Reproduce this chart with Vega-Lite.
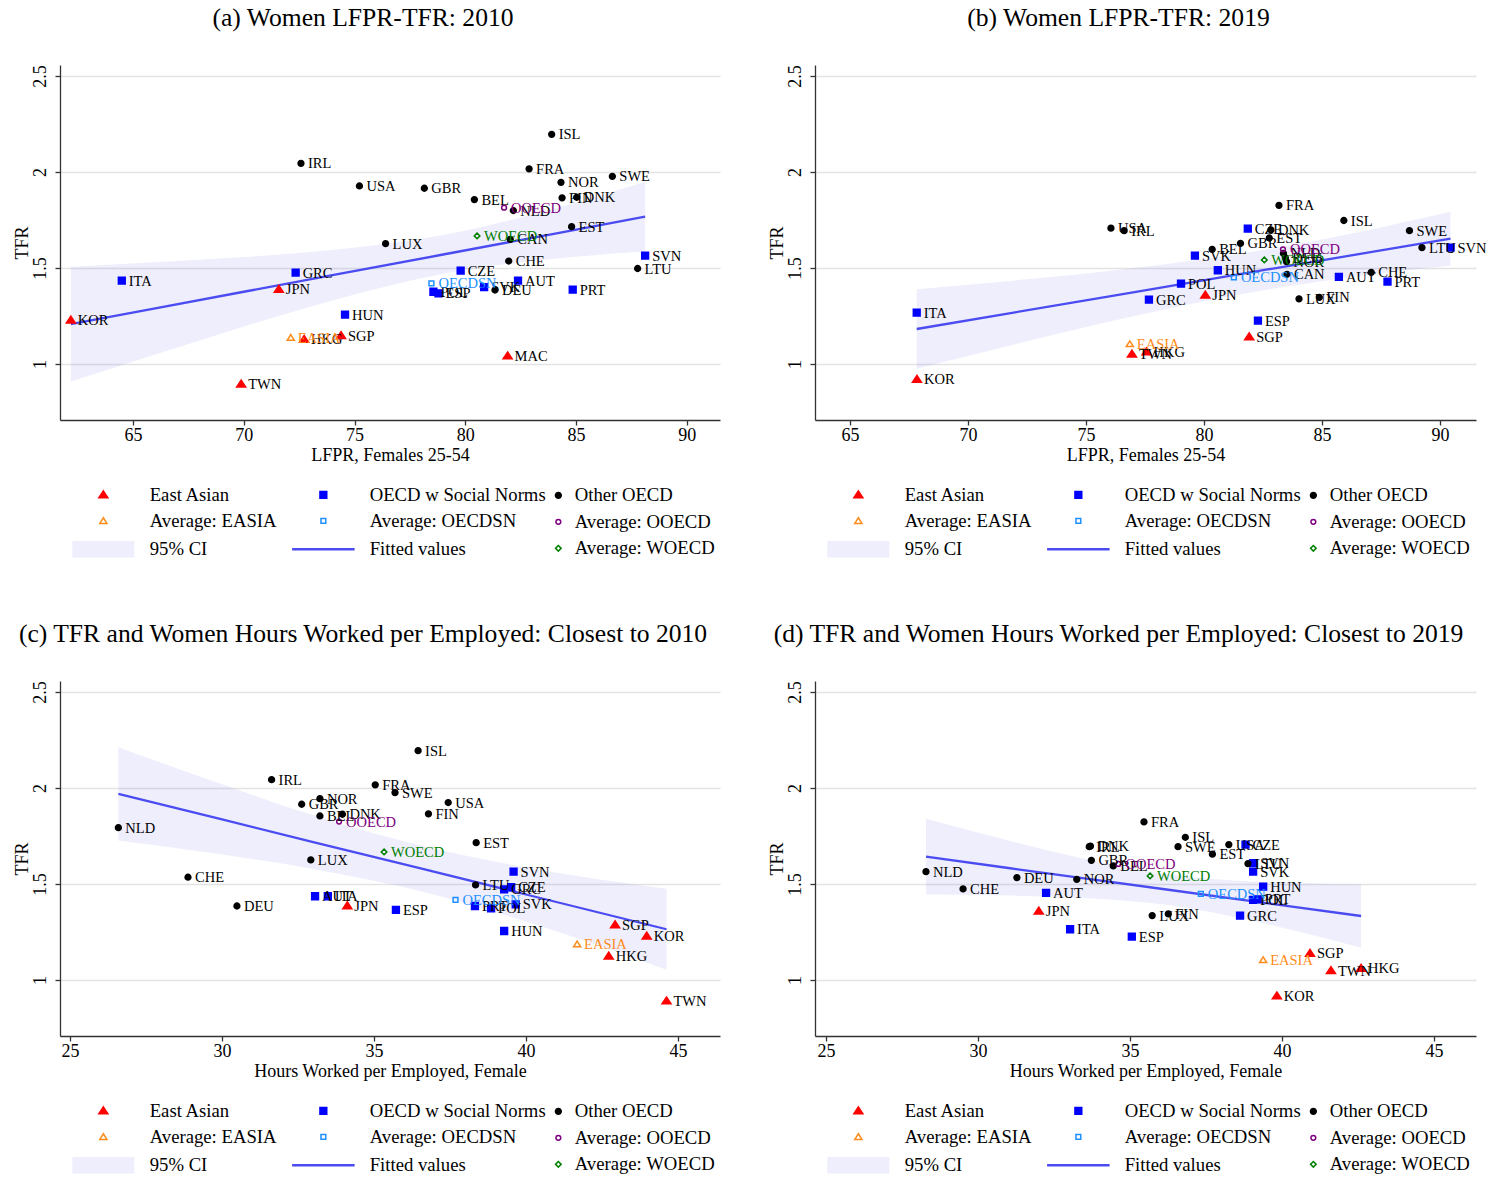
{
  "$schema": "https://vega.github.io/schema/vega-lite/v6.json",
  "background": "white",
  "padding": {"left": 13, "top": 6, "right": 5, "bottom": 5},
  "bounds": "flush",
  "columns": 2,
  "spacing": {"row": 261, "column": 95},
  "config": {
    "font": "Liberation Serif",
    "view": {"stroke": null},
    "title": {"font": "Liberation Serif", "fontSize": 25.6, "fontWeight": "normal", "color": "black", "anchor": "middle", "frame": "group", "dx": -27, "baseline": "alphabetic", "offset": 33},
    "axis": {"labelFont": "Liberation Serif", "labelFontSize": 18, "labelColor": "black", "titleFont": "Liberation Serif", "titleFontSize": 18, "titleFontWeight": "normal", "titleColor": "black", "domainColor": "#333333", "domainWidth": 1.3, "tickColor": "#333333", "tickWidth": 1.3, "tickSize": 5, "gridColor": "#e3e3e3", "gridWidth": 1.6},
    "axisY": {"labelAngle": 270, "labelAlign": "center", "labelBaseline": "bottom", "labelPadding": 6, "titlePadding": 0, "grid": true},
    "axisX": {"grid": false, "labelPadding": 1, "titlePadding": 2},
    "legend": {"labelFont": "Liberation Serif", "labelFontSize": 18.7, "labelColor": "black", "symbolSize": 100, "symbolStrokeWidth": 1.5, "rowPadding": 6.5, "labelLimit": 400, "padding": 0, "gridAlign": "each"}
  },
  "resolve": {
    "scale": {"shape": "independent", "fill": "independent", "stroke": "independent", "color": "independent"},
    "legend": {"shape": "independent", "fill": "independent", "stroke": "independent"}
  },
  "datasets": {
    "a": [
      {"label": "KOR", "group": "East Asian", "x": 62.19, "y": 1.229},
      {"label": "JPN", "group": "East Asian", "x": 71.58, "y": 1.389},
      {"label": "TWN", "group": "East Asian", "x": 69.88, "y": 0.896},
      {"label": "HKG", "group": "East Asian", "x": 72.72, "y": 1.128},
      {"label": "SGP", "group": "East Asian", "x": 74.39, "y": 1.148},
      {"label": "MAC", "group": "East Asian", "x": 81.91, "y": 1.042},
      {"label": "ITA", "group": "OECD w Social Norms", "x": 64.49, "y": 1.434},
      {"label": "GRC", "group": "OECD w Social Norms", "x": 72.34, "y": 1.476},
      {"label": "HUN", "group": "OECD w Social Norms", "x": 74.57, "y": 1.257},
      {"label": "CZE", "group": "OECD w Social Norms", "x": 79.79, "y": 1.486},
      {"label": "POL", "group": "OECD w Social Norms", "x": 78.56, "y": 1.376},
      {"label": "ESP", "group": "OECD w Social Norms", "x": 78.79, "y": 1.368},
      {"label": "SVK", "group": "OECD w Social Norms", "x": 80.85, "y": 1.4},
      {"label": "AUT", "group": "OECD w Social Norms", "x": 82.38, "y": 1.434},
      {"label": "PRT", "group": "OECD w Social Norms", "x": 84.85, "y": 1.387},
      {"label": "SVN", "group": "OECD w Social Norms", "x": 88.12, "y": 1.564},
      {"label": "IRL", "group": "Other OECD", "x": 72.58, "y": 2.045},
      {"label": "USA", "group": "Other OECD", "x": 75.22, "y": 1.927},
      {"label": "LUX", "group": "Other OECD", "x": 76.4, "y": 1.627},
      {"label": "GBR", "group": "Other OECD", "x": 78.15, "y": 1.915},
      {"label": "BEL", "group": "Other OECD", "x": 80.41, "y": 1.856},
      {"label": "FRA", "group": "Other OECD", "x": 82.88, "y": 2.016},
      {"label": "ISL", "group": "Other OECD", "x": 83.9, "y": 2.196},
      {"label": "NOR", "group": "Other OECD", "x": 84.32, "y": 1.946},
      {"label": "SWE", "group": "Other OECD", "x": 86.64, "y": 1.977},
      {"label": "FIN", "group": "Other OECD", "x": 84.37, "y": 1.865},
      {"label": "DNK", "group": "Other OECD", "x": 85.03, "y": 1.868},
      {"label": "NLD", "group": "Other OECD", "x": 82.17, "y": 1.799},
      {"label": "EST", "group": "Other OECD", "x": 84.8, "y": 1.715},
      {"label": "CAN", "group": "Other OECD", "x": 82.03, "y": 1.649},
      {"label": "CHE", "group": "Other OECD", "x": 81.96, "y": 1.536},
      {"label": "DEU", "group": "Other OECD", "x": 81.34, "y": 1.385},
      {"label": "LTU", "group": "Other OECD", "x": 87.78, "y": 1.497},
      {"label": "EASIA", "group": "Average: EASIA", "x": 72.12, "y": 1.137},
      {"label": "OECDSN", "group": "Average: OECDSN", "x": 78.47, "y": 1.42},
      {"label": "OOECD", "group": "Average: OOECD", "x": 81.75, "y": 1.814},
      {"label": "WOECD", "group": "Average: WOECD", "x": 80.53, "y": 1.667}
    ],
    "b": [
      {"label": "KOR", "group": "East Asian", "x": 67.84, "y": 0.92},
      {"label": "JPN", "group": "East Asian", "x": 80.06, "y": 1.359},
      {"label": "TWN", "group": "East Asian", "x": 76.95, "y": 1.052},
      {"label": "HKG", "group": "East Asian", "x": 77.57, "y": 1.064},
      {"label": "SGP", "group": "East Asian", "x": 81.92, "y": 1.142},
      {"label": "ITA", "group": "OECD w Social Norms", "x": 67.83, "y": 1.267},
      {"label": "GRC", "group": "OECD w Social Norms", "x": 77.67, "y": 1.335},
      {"label": "POL", "group": "OECD w Social Norms", "x": 79.03, "y": 1.418},
      {"label": "HUN", "group": "OECD w Social Norms", "x": 80.59, "y": 1.488},
      {"label": "SVK", "group": "OECD w Social Norms", "x": 79.62, "y": 1.564},
      {"label": "CZE", "group": "OECD w Social Norms", "x": 81.86, "y": 1.705},
      {"label": "ESP", "group": "OECD w Social Norms", "x": 82.29, "y": 1.226},
      {"label": "AUT", "group": "OECD w Social Norms", "x": 85.72, "y": 1.453},
      {"label": "PRT", "group": "OECD w Social Norms", "x": 87.78, "y": 1.429},
      {"label": "SVN", "group": "OECD w Social Norms", "x": 90.45, "y": 1.606},
      {"label": "USA", "group": "Other OECD", "x": 76.06, "y": 1.707},
      {"label": "IRL", "group": "Other OECD", "x": 76.62, "y": 1.694},
      {"label": "BEL", "group": "Other OECD", "x": 80.35, "y": 1.597},
      {"label": "GBR", "group": "Other OECD", "x": 81.55, "y": 1.628},
      {"label": "DNK", "group": "Other OECD", "x": 82.84, "y": 1.698},
      {"label": "EST", "group": "Other OECD", "x": 82.77, "y": 1.656},
      {"label": "FRA", "group": "Other OECD", "x": 83.18, "y": 1.826},
      {"label": "ISL", "group": "Other OECD", "x": 85.93, "y": 1.747},
      {"label": "SWE", "group": "Other OECD", "x": 88.71, "y": 1.694},
      {"label": "LTU", "group": "Other OECD", "x": 89.24, "y": 1.606},
      {"label": "NLD", "group": "Other OECD", "x": 83.37, "y": 1.576},
      {"label": "DEU", "group": "Other OECD", "x": 83.45, "y": 1.553},
      {"label": "NOR", "group": "Other OECD", "x": 83.5, "y": 1.533},
      {"label": "CAN", "group": "Other OECD", "x": 83.52, "y": 1.467},
      {"label": "CHE", "group": "Other OECD", "x": 87.09, "y": 1.477},
      {"label": "LUX", "group": "Other OECD", "x": 84.03, "y": 1.339},
      {"label": "FIN", "group": "Other OECD", "x": 84.89, "y": 1.347},
      {"label": "EASIA", "group": "Average: EASIA", "x": 76.86, "y": 1.104},
      {"label": "OECDSN", "group": "Average: OECDSN", "x": 81.27, "y": 1.451},
      {"label": "OOECD", "group": "Average: OOECD", "x": 83.35, "y": 1.597},
      {"label": "WOECD", "group": "Average: WOECD", "x": 82.56, "y": 1.542}
    ],
    "c": [
      {"label": "JPN", "group": "East Asian", "x": 34.12, "y": 1.387},
      {"label": "SGP", "group": "East Asian", "x": 42.93, "y": 1.288},
      {"label": "KOR", "group": "East Asian", "x": 43.97, "y": 1.229},
      {"label": "HKG", "group": "East Asian", "x": 42.72, "y": 1.125},
      {"label": "TWN", "group": "East Asian", "x": 44.62, "y": 0.891},
      {"label": "AUT", "group": "OECD w Social Norms", "x": 33.06, "y": 1.436},
      {"label": "ITA", "group": "OECD w Social Norms", "x": 33.48, "y": 1.436},
      {"label": "ESP", "group": "OECD w Social Norms", "x": 35.72, "y": 1.365},
      {"label": "SVN", "group": "OECD w Social Norms", "x": 39.59, "y": 1.564},
      {"label": "CZE", "group": "OECD w Social Norms", "x": 39.51, "y": 1.483},
      {"label": "GRC", "group": "OECD w Social Norms", "x": 39.28, "y": 1.472},
      {"label": "SVK", "group": "OECD w Social Norms", "x": 39.66, "y": 1.394},
      {"label": "PRT", "group": "OECD w Social Norms", "x": 38.32, "y": 1.385},
      {"label": "POL", "group": "OECD w Social Norms", "x": 38.85, "y": 1.373},
      {"label": "HUN", "group": "OECD w Social Norms", "x": 39.28, "y": 1.255},
      {"label": "NLD", "group": "Other OECD", "x": 26.59, "y": 1.793},
      {"label": "CHE", "group": "Other OECD", "x": 28.88, "y": 1.535},
      {"label": "DEU", "group": "Other OECD", "x": 30.49, "y": 1.385},
      {"label": "IRL", "group": "Other OECD", "x": 31.63, "y": 2.043},
      {"label": "GBR", "group": "Other OECD", "x": 32.62, "y": 1.915},
      {"label": "NOR", "group": "Other OECD", "x": 33.22, "y": 1.944},
      {"label": "BEL", "group": "Other OECD", "x": 33.22, "y": 1.854},
      {"label": "DNK", "group": "Other OECD", "x": 33.96, "y": 1.863},
      {"label": "LUX", "group": "Other OECD", "x": 32.92, "y": 1.625},
      {"label": "FRA", "group": "Other OECD", "x": 35.04, "y": 2.016},
      {"label": "SWE", "group": "Other OECD", "x": 35.69, "y": 1.976},
      {"label": "ISL", "group": "Other OECD", "x": 36.45, "y": 2.194},
      {"label": "USA", "group": "Other OECD", "x": 37.44, "y": 1.924},
      {"label": "FIN", "group": "Other OECD", "x": 36.79, "y": 1.865},
      {"label": "EST", "group": "Other OECD", "x": 38.36, "y": 1.715},
      {"label": "LTU", "group": "Other OECD", "x": 38.34, "y": 1.495},
      {"label": "EASIA", "group": "Average: EASIA", "x": 41.68, "y": 1.186},
      {"label": "OECDSN", "group": "Average: OECDSN", "x": 37.68, "y": 1.417},
      {"label": "OOECD", "group": "Average: OOECD", "x": 33.85, "y": 1.825},
      {"label": "WOECD", "group": "Average: WOECD", "x": 35.33, "y": 1.667}
    ],
    "d": [
      {"label": "JPN", "group": "East Asian", "x": 32.0, "y": 1.359},
      {"label": "SGP", "group": "East Asian", "x": 40.92, "y": 1.139},
      {"label": "TWN", "group": "East Asian", "x": 41.61, "y": 1.049},
      {"label": "HKG", "group": "East Asian", "x": 42.6, "y": 1.061},
      {"label": "KOR", "group": "East Asian", "x": 39.83, "y": 0.917},
      {"label": "AUT", "group": "OECD w Social Norms", "x": 32.24, "y": 1.453},
      {"label": "ITA", "group": "OECD w Social Norms", "x": 33.03, "y": 1.264},
      {"label": "ESP", "group": "OECD w Social Norms", "x": 35.06, "y": 1.226},
      {"label": "CZE", "group": "OECD w Social Norms", "x": 38.8, "y": 1.705},
      {"label": "SVN", "group": "OECD w Social Norms", "x": 39.05, "y": 1.608},
      {"label": "SVK", "group": "OECD w Social Norms", "x": 39.05, "y": 1.564},
      {"label": "HUN", "group": "OECD w Social Norms", "x": 39.38, "y": 1.486},
      {"label": "POL", "group": "OECD w Social Norms", "x": 39.05, "y": 1.417},
      {"label": "PRT", "group": "OECD w Social Norms", "x": 39.2, "y": 1.42},
      {"label": "GRC", "group": "OECD w Social Norms", "x": 38.62, "y": 1.335},
      {"label": "NLD", "group": "Other OECD", "x": 28.29, "y": 1.564},
      {"label": "CHE", "group": "Other OECD", "x": 29.51, "y": 1.474},
      {"label": "DEU", "group": "Other OECD", "x": 31.28, "y": 1.533},
      {"label": "NOR", "group": "Other OECD", "x": 33.25, "y": 1.524},
      {"label": "IRL", "group": "Other OECD", "x": 33.66, "y": 1.694},
      {"label": "DNK", "group": "Other OECD", "x": 33.7, "y": 1.697},
      {"label": "GBR", "group": "Other OECD", "x": 33.73, "y": 1.623},
      {"label": "BEL", "group": "Other OECD", "x": 34.45, "y": 1.594},
      {"label": "FRA", "group": "Other OECD", "x": 35.46, "y": 1.823},
      {"label": "ISL", "group": "Other OECD", "x": 36.82, "y": 1.743},
      {"label": "SWE", "group": "Other OECD", "x": 36.58, "y": 1.694},
      {"label": "USA", "group": "Other OECD", "x": 38.25, "y": 1.705},
      {"label": "EST", "group": "Other OECD", "x": 37.71, "y": 1.655},
      {"label": "LTU", "group": "Other OECD", "x": 38.88, "y": 1.606},
      {"label": "LUX", "group": "Other OECD", "x": 35.73, "y": 1.335},
      {"label": "FIN", "group": "Other OECD", "x": 36.26, "y": 1.344},
      {"label": "EASIA", "group": "Average: EASIA", "x": 39.38, "y": 1.104},
      {"label": "OECDSN", "group": "Average: OECDSN", "x": 37.33, "y": 1.448},
      {"label": "OOECD", "group": "Average: OOECD", "x": 34.62, "y": 1.604},
      {"label": "WOECD", "group": "Average: WOECD", "x": 35.66, "y": 1.542}
    ],
    "fa": [
      {"x": 62.19, "lo": 0.909, "hi": 1.505, "fit": 1.207},
      {"x": 66, "lo": 1.049, "hi": 1.529, "fit": 1.289},
      {"x": 70, "lo": 1.195, "hi": 1.557, "fit": 1.376},
      {"x": 74, "lo": 1.331, "hi": 1.593, "fit": 1.462},
      {"x": 79, "lo": 1.47, "hi": 1.671, "fit": 1.57},
      {"x": 84, "lo": 1.548, "hi": 1.808, "fit": 1.678},
      {"x": 88.12, "lo": 1.585, "hi": 1.949, "fit": 1.767}
    ],
    "fb": [
      {"x": 67.83, "lo": 0.975, "hi": 1.389, "fit": 1.182},
      {"x": 72, "lo": 1.103, "hi": 1.435, "fit": 1.269},
      {"x": 77, "lo": 1.248, "hi": 1.498, "fit": 1.373},
      {"x": 82.7, "lo": 1.388, "hi": 1.597, "fit": 1.492},
      {"x": 87, "lo": 1.465, "hi": 1.698, "fit": 1.581},
      {"x": 90.45, "lo": 1.513, "hi": 1.793, "fit": 1.653}
    ],
    "fc": [
      {"x": 26.59, "lo": 1.726, "hi": 2.212, "fit": 1.969},
      {"x": 30, "lo": 1.653, "hi": 2.019, "fit": 1.836},
      {"x": 33, "lo": 1.578, "hi": 1.858, "fit": 1.718},
      {"x": 36.5, "lo": 1.463, "hi": 1.701, "fit": 1.582},
      {"x": 40, "lo": 1.304, "hi": 1.586, "fit": 1.445},
      {"x": 44.62, "lo": 1.053, "hi": 1.475, "fit": 1.264}
    ],
    "fd": [
      {"x": 28.29, "lo": 1.445, "hi": 1.839, "fit": 1.642},
      {"x": 31, "lo": 1.44, "hi": 1.726, "fit": 1.583},
      {"x": 33.5, "lo": 1.427, "hi": 1.631, "fit": 1.529},
      {"x": 36.2, "lo": 1.391, "hi": 1.551, "fit": 1.471},
      {"x": 39, "lo": 1.309, "hi": 1.513, "fit": 1.411},
      {"x": 42.6, "lo": 1.168, "hi": 1.498, "fit": 1.333}
    ]
  },
  "concat": [
    {
      "width": 660, "height": 355,
      "title": {"text": "(a) Women LFPR-TFR: 2010"},
      "resolve": {"scale": {"shape": "independent", "fill": "independent", "stroke": "independent"}, "legend": {"shape": "independent", "fill": "independent", "stroke": "independent"}},
      "layer": [
        {"data": {"name": "fa"}, "mark": {"type": "area", "color": "#7171e6", "opacity": 0.12, "interpolate": "monotone"},
         "encoding": {
           "x": {"field": "x", "type": "quantitative", "scale": {"domain": [61.7, 91.5], "nice": false, "zero": false}, "axis": {"values": [65, 70, 75, 80, 85, 90], "format": "d", "title": "LFPR, Females 25-54"}},
           "y": {"field": "lo", "type": "quantitative", "scale": {"domain": [0.708, 2.557], "nice": false, "zero": false}, "axis": {"values": [1, 1.5, 2, 2.5], "format": "~g", "title": "TFR"}},
           "y2": {"field": "hi"}}},
        {"data": {"name": "fa"}, "mark": {"type": "line", "color": "#4b4bf2", "strokeWidth": 2.3},
         "encoding": {"x": {"field": "x", "type": "quantitative"}, "y": {"field": "fit", "type": "quantitative"}}},
        {"data": {"name": "a"}, "transform": [{"filter": {"field": "group", "oneOf": ["East Asian", "Average: EASIA", "OECD w Social Norms", "Average: OECDSN"]}}],
         "mark": {"type": "point", "filled": true, "opacity": 1, "size": 100, "strokeWidth": 1.5},
         "encoding": {
           "x": {"field": "x", "type": "quantitative"}, "y": {"field": "y", "type": "quantitative"},
           "shape": {"field": "group", "type": "nominal", "scale": {"domain": ["East Asian", "Average: EASIA", "95% CI", "OECD w Social Norms", "Average: OECDSN", "Fitted values"], "range": ["M0,-0.77L0.9,0.6L-0.9,0.6Z", "M0,-0.62L0.71,0.52L-0.71,0.52Z", "M-6.05,-1.5H6.05V1.5H-6.05Z", "M-0.68,-0.68H0.68V0.68H-0.68Z", "M-0.48,-0.48H0.48V0.48H-0.48Z", "M-6.1,-0.1H6.1V0.1H-6.1Z"]}, "legend": {"title": null, "orient": "none", "legendX": 34, "legendY": 420, "columns": 2, "labelOffset": 37, "columnPadding": 12}},
           "fill": {"field": "group", "type": "nominal", "scale": {"domain": ["East Asian", "Average: EASIA", "95% CI", "OECD w Social Norms", "Average: OECDSN", "Fitted values"], "range": ["#ff0000", "transparent", "#eeeefc", "#0000ff", "transparent", "#4b4bf2"]}, "legend": {"title": null, "orient": "none", "legendX": 34, "legendY": 420, "columns": 2, "labelOffset": 37, "columnPadding": 12}},
           "stroke": {"field": "group", "type": "nominal", "scale": {"domain": ["East Asian", "Average: EASIA", "95% CI", "OECD w Social Norms", "Average: OECDSN", "Fitted values"], "range": ["#ff0000", "#ff8c1a", "#eeeefc", "#0000ff", "#1e90ff", "#4b4bf2"]}, "legend": {"title": null, "orient": "none", "legendX": 34, "legendY": 420, "columns": 2, "labelOffset": 37, "columnPadding": 12}}}},
        {"data": {"name": "a"}, "transform": [{"filter": {"field": "group", "oneOf": ["Other OECD", "Average: OOECD", "Average: WOECD"]}}],
         "mark": {"type": "point", "filled": true, "opacity": 1, "size": 100, "strokeWidth": 1.5},
         "encoding": {
           "x": {"field": "x", "type": "quantitative"}, "y": {"field": "y", "type": "quantitative"},
           "shape": {"field": "group", "type": "nominal", "scale": {"domain": ["Other OECD", "Average: OOECD", "Average: WOECD"], "range": ["M-0.58,0A0.58,0.58 0 1,0 0.58,0A0.58,0.58 0 1,0 -0.58,0Z", "M-0.48,0A0.48,0.48 0 1,0 0.48,0A0.48,0.48 0 1,0 -0.48,0Z", "M0,-0.56L0.56,0L0,0.56L-0.56,0Z"]}, "legend": {"title": null, "orient": "none", "legendX": 489, "legendY": 421, "columns": 1, "labelOffset": 7}},
           "fill": {"field": "group", "type": "nominal", "scale": {"domain": ["Other OECD", "Average: OOECD", "Average: WOECD"], "range": ["#000000", "transparent", "transparent"]}, "legend": {"title": null, "orient": "none", "legendX": 489, "legendY": 421, "columns": 1, "labelOffset": 7}},
           "stroke": {"field": "group", "type": "nominal", "scale": {"domain": ["Other OECD", "Average: OOECD", "Average: WOECD"], "range": ["#000000", "#800080", "#008000"]}, "legend": {"title": null, "orient": "none", "legendX": 489, "legendY": 421, "columns": 1, "labelOffset": 7}}}},
        {"data": {"name": "a"}, "mark": {"type": "text", "align": "left", "baseline": "middle", "dx": 7, "dy": 1, "fontSize": 14.5, "font": "Liberation Serif"},
         "encoding": {
           "x": {"field": "x", "type": "quantitative"}, "y": {"field": "y", "type": "quantitative"},
           "text": {"field": "label"},
           "color": {"field": "group", "type": "nominal", "scale": {"domain": ["East Asian", "OECD w Social Norms", "Other OECD", "Average: EASIA", "Average: OECDSN", "Average: OOECD", "Average: WOECD"], "range": ["#000000", "#000000", "#000000", "#ff8c1a", "#1e90ff", "#800080", "#008000"]}, "legend": null}}}
      ]
    },
    {
      "width": 661, "height": 355,
      "title": {"text": "(b) Women LFPR-TFR: 2019"},
      "resolve": {"scale": {"shape": "independent", "fill": "independent", "stroke": "independent"}, "legend": {"shape": "independent", "fill": "independent", "stroke": "independent"}},
      "layer": [
        {"data": {"name": "fb"}, "mark": {"type": "area", "color": "#7171e6", "opacity": 0.12, "interpolate": "monotone"},
         "encoding": {
           "x": {"field": "x", "type": "quantitative", "scale": {"domain": [63.52, 91.53], "nice": false, "zero": false}, "axis": {"values": [65, 70, 75, 80, 85, 90], "format": "d", "title": "LFPR, Females 25-54"}},
           "y": {"field": "lo", "type": "quantitative", "scale": {"domain": [0.708, 2.557], "nice": false, "zero": false}, "axis": {"values": [1, 1.5, 2, 2.5], "format": "~g", "title": "TFR"}},
           "y2": {"field": "hi"}}},
        {"data": {"name": "fb"}, "mark": {"type": "line", "color": "#4b4bf2", "strokeWidth": 2.3},
         "encoding": {"x": {"field": "x", "type": "quantitative"}, "y": {"field": "fit", "type": "quantitative"}}},
        {"data": {"name": "b"}, "transform": [{"filter": {"field": "group", "oneOf": ["East Asian", "Average: EASIA", "OECD w Social Norms", "Average: OECDSN"]}}],
         "mark": {"type": "point", "filled": true, "opacity": 1, "size": 100, "strokeWidth": 1.5},
         "encoding": {
           "x": {"field": "x", "type": "quantitative"}, "y": {"field": "y", "type": "quantitative"},
           "shape": {"field": "group", "type": "nominal", "scale": {"domain": ["East Asian", "Average: EASIA", "95% CI", "OECD w Social Norms", "Average: OECDSN", "Fitted values"], "range": ["M0,-0.77L0.9,0.6L-0.9,0.6Z", "M0,-0.62L0.71,0.52L-0.71,0.52Z", "M-6.05,-1.5H6.05V1.5H-6.05Z", "M-0.68,-0.68H0.68V0.68H-0.68Z", "M-0.48,-0.48H0.48V0.48H-0.48Z", "M-6.1,-0.1H6.1V0.1H-6.1Z"]}, "legend": {"title": null, "orient": "none", "legendX": 34, "legendY": 420, "columns": 2, "labelOffset": 37, "columnPadding": 12}},
           "fill": {"field": "group", "type": "nominal", "scale": {"domain": ["East Asian", "Average: EASIA", "95% CI", "OECD w Social Norms", "Average: OECDSN", "Fitted values"], "range": ["#ff0000", "transparent", "#eeeefc", "#0000ff", "transparent", "#4b4bf2"]}, "legend": {"title": null, "orient": "none", "legendX": 34, "legendY": 420, "columns": 2, "labelOffset": 37, "columnPadding": 12}},
           "stroke": {"field": "group", "type": "nominal", "scale": {"domain": ["East Asian", "Average: EASIA", "95% CI", "OECD w Social Norms", "Average: OECDSN", "Fitted values"], "range": ["#ff0000", "#ff8c1a", "#eeeefc", "#0000ff", "#1e90ff", "#4b4bf2"]}, "legend": {"title": null, "orient": "none", "legendX": 34, "legendY": 420, "columns": 2, "labelOffset": 37, "columnPadding": 12}}}},
        {"data": {"name": "b"}, "transform": [{"filter": {"field": "group", "oneOf": ["Other OECD", "Average: OOECD", "Average: WOECD"]}}],
         "mark": {"type": "point", "filled": true, "opacity": 1, "size": 100, "strokeWidth": 1.5},
         "encoding": {
           "x": {"field": "x", "type": "quantitative"}, "y": {"field": "y", "type": "quantitative"},
           "shape": {"field": "group", "type": "nominal", "scale": {"domain": ["Other OECD", "Average: OOECD", "Average: WOECD"], "range": ["M-0.58,0A0.58,0.58 0 1,0 0.58,0A0.58,0.58 0 1,0 -0.58,0Z", "M-0.48,0A0.48,0.48 0 1,0 0.48,0A0.48,0.48 0 1,0 -0.48,0Z", "M0,-0.56L0.56,0L0,0.56L-0.56,0Z"]}, "legend": {"title": null, "orient": "none", "legendX": 489, "legendY": 421, "columns": 1, "labelOffset": 7}},
           "fill": {"field": "group", "type": "nominal", "scale": {"domain": ["Other OECD", "Average: OOECD", "Average: WOECD"], "range": ["#000000", "transparent", "transparent"]}, "legend": {"title": null, "orient": "none", "legendX": 489, "legendY": 421, "columns": 1, "labelOffset": 7}},
           "stroke": {"field": "group", "type": "nominal", "scale": {"domain": ["Other OECD", "Average: OOECD", "Average: WOECD"], "range": ["#000000", "#800080", "#008000"]}, "legend": {"title": null, "orient": "none", "legendX": 489, "legendY": 421, "columns": 1, "labelOffset": 7}}}},
        {"data": {"name": "b"}, "mark": {"type": "text", "align": "left", "baseline": "middle", "dx": 7, "dy": 1, "fontSize": 14.5, "font": "Liberation Serif"},
         "encoding": {
           "x": {"field": "x", "type": "quantitative"}, "y": {"field": "y", "type": "quantitative"},
           "text": {"field": "label"},
           "color": {"field": "group", "type": "nominal", "scale": {"domain": ["East Asian", "OECD w Social Norms", "Other OECD", "Average: EASIA", "Average: OECDSN", "Average: OOECD", "Average: WOECD"], "range": ["#000000", "#000000", "#000000", "#ff8c1a", "#1e90ff", "#800080", "#008000"]}, "legend": null}}}
      ]
    },
    {
      "width": 660, "height": 355,
      "title": {"text": "(c) TFR and Women Hours Worked per Employed: Closest to 2010"},
      "resolve": {"scale": {"shape": "independent", "fill": "independent", "stroke": "independent"}, "legend": {"shape": "independent", "fill": "independent", "stroke": "independent"}},
      "layer": [
        {"data": {"name": "fc"}, "mark": {"type": "area", "color": "#7171e6", "opacity": 0.12, "interpolate": "monotone"},
         "encoding": {
           "x": {"field": "x", "type": "quantitative", "scale": {"domain": [24.67, 46.38], "nice": false, "zero": false}, "axis": {"values": [25, 30, 35, 40, 45], "format": "d", "title": "Hours Worked per Employed, Female"}},
           "y": {"field": "lo", "type": "quantitative", "scale": {"domain": [0.708, 2.557], "nice": false, "zero": false}, "axis": {"values": [1, 1.5, 2, 2.5], "format": "~g", "title": "TFR"}},
           "y2": {"field": "hi"}}},
        {"data": {"name": "fc"}, "mark": {"type": "line", "color": "#4b4bf2", "strokeWidth": 2.3},
         "encoding": {"x": {"field": "x", "type": "quantitative"}, "y": {"field": "fit", "type": "quantitative"}}},
        {"data": {"name": "c"}, "transform": [{"filter": {"field": "group", "oneOf": ["East Asian", "Average: EASIA", "OECD w Social Norms", "Average: OECDSN"]}}],
         "mark": {"type": "point", "filled": true, "opacity": 1, "size": 100, "strokeWidth": 1.5},
         "encoding": {
           "x": {"field": "x", "type": "quantitative"}, "y": {"field": "y", "type": "quantitative"},
           "shape": {"field": "group", "type": "nominal", "scale": {"domain": ["East Asian", "Average: EASIA", "95% CI", "OECD w Social Norms", "Average: OECDSN", "Fitted values"], "range": ["M0,-0.77L0.9,0.6L-0.9,0.6Z", "M0,-0.62L0.71,0.52L-0.71,0.52Z", "M-6.05,-1.5H6.05V1.5H-6.05Z", "M-0.68,-0.68H0.68V0.68H-0.68Z", "M-0.48,-0.48H0.48V0.48H-0.48Z", "M-6.1,-0.1H6.1V0.1H-6.1Z"]}, "legend": {"title": null, "orient": "none", "legendX": 34, "legendY": 420, "columns": 2, "labelOffset": 37, "columnPadding": 12}},
           "fill": {"field": "group", "type": "nominal", "scale": {"domain": ["East Asian", "Average: EASIA", "95% CI", "OECD w Social Norms", "Average: OECDSN", "Fitted values"], "range": ["#ff0000", "transparent", "#eeeefc", "#0000ff", "transparent", "#4b4bf2"]}, "legend": {"title": null, "orient": "none", "legendX": 34, "legendY": 420, "columns": 2, "labelOffset": 37, "columnPadding": 12}},
           "stroke": {"field": "group", "type": "nominal", "scale": {"domain": ["East Asian", "Average: EASIA", "95% CI", "OECD w Social Norms", "Average: OECDSN", "Fitted values"], "range": ["#ff0000", "#ff8c1a", "#eeeefc", "#0000ff", "#1e90ff", "#4b4bf2"]}, "legend": {"title": null, "orient": "none", "legendX": 34, "legendY": 420, "columns": 2, "labelOffset": 37, "columnPadding": 12}}}},
        {"data": {"name": "c"}, "transform": [{"filter": {"field": "group", "oneOf": ["Other OECD", "Average: OOECD", "Average: WOECD"]}}],
         "mark": {"type": "point", "filled": true, "opacity": 1, "size": 100, "strokeWidth": 1.5},
         "encoding": {
           "x": {"field": "x", "type": "quantitative"}, "y": {"field": "y", "type": "quantitative"},
           "shape": {"field": "group", "type": "nominal", "scale": {"domain": ["Other OECD", "Average: OOECD", "Average: WOECD"], "range": ["M-0.58,0A0.58,0.58 0 1,0 0.58,0A0.58,0.58 0 1,0 -0.58,0Z", "M-0.48,0A0.48,0.48 0 1,0 0.48,0A0.48,0.48 0 1,0 -0.48,0Z", "M0,-0.56L0.56,0L0,0.56L-0.56,0Z"]}, "legend": {"title": null, "orient": "none", "legendX": 489, "legendY": 421, "columns": 1, "labelOffset": 7}},
           "fill": {"field": "group", "type": "nominal", "scale": {"domain": ["Other OECD", "Average: OOECD", "Average: WOECD"], "range": ["#000000", "transparent", "transparent"]}, "legend": {"title": null, "orient": "none", "legendX": 489, "legendY": 421, "columns": 1, "labelOffset": 7}},
           "stroke": {"field": "group", "type": "nominal", "scale": {"domain": ["Other OECD", "Average: OOECD", "Average: WOECD"], "range": ["#000000", "#800080", "#008000"]}, "legend": {"title": null, "orient": "none", "legendX": 489, "legendY": 421, "columns": 1, "labelOffset": 7}}}},
        {"data": {"name": "c"}, "mark": {"type": "text", "align": "left", "baseline": "middle", "dx": 7, "dy": 1, "fontSize": 14.5, "font": "Liberation Serif"},
         "encoding": {
           "x": {"field": "x", "type": "quantitative"}, "y": {"field": "y", "type": "quantitative"},
           "text": {"field": "label"},
           "color": {"field": "group", "type": "nominal", "scale": {"domain": ["East Asian", "OECD w Social Norms", "Other OECD", "Average: EASIA", "Average: OECDSN", "Average: OOECD", "Average: WOECD"], "range": ["#000000", "#000000", "#000000", "#ff8c1a", "#1e90ff", "#800080", "#008000"]}, "legend": null}}}
      ]
    },
    {
      "width": 661, "height": 355,
      "title": {"text": "(d) TFR and Women Hours Worked per Employed: Closest to 2019"},
      "resolve": {"scale": {"shape": "independent", "fill": "independent", "stroke": "independent"}, "legend": {"shape": "independent", "fill": "independent", "stroke": "independent"}},
      "layer": [
        {"data": {"name": "fd"}, "mark": {"type": "area", "color": "#7171e6", "opacity": 0.12, "interpolate": "monotone"},
         "encoding": {
           "x": {"field": "x", "type": "quantitative", "scale": {"domain": [24.64, 46.38], "nice": false, "zero": false}, "axis": {"values": [25, 30, 35, 40, 45], "format": "d", "title": "Hours Worked per Employed, Female"}},
           "y": {"field": "lo", "type": "quantitative", "scale": {"domain": [0.708, 2.557], "nice": false, "zero": false}, "axis": {"values": [1, 1.5, 2, 2.5], "format": "~g", "title": "TFR"}},
           "y2": {"field": "hi"}}},
        {"data": {"name": "fd"}, "mark": {"type": "line", "color": "#4b4bf2", "strokeWidth": 2.3},
         "encoding": {"x": {"field": "x", "type": "quantitative"}, "y": {"field": "fit", "type": "quantitative"}}},
        {"data": {"name": "d"}, "transform": [{"filter": {"field": "group", "oneOf": ["East Asian", "Average: EASIA", "OECD w Social Norms", "Average: OECDSN"]}}],
         "mark": {"type": "point", "filled": true, "opacity": 1, "size": 100, "strokeWidth": 1.5},
         "encoding": {
           "x": {"field": "x", "type": "quantitative"}, "y": {"field": "y", "type": "quantitative"},
           "shape": {"field": "group", "type": "nominal", "scale": {"domain": ["East Asian", "Average: EASIA", "95% CI", "OECD w Social Norms", "Average: OECDSN", "Fitted values"], "range": ["M0,-0.77L0.9,0.6L-0.9,0.6Z", "M0,-0.62L0.71,0.52L-0.71,0.52Z", "M-6.05,-1.5H6.05V1.5H-6.05Z", "M-0.68,-0.68H0.68V0.68H-0.68Z", "M-0.48,-0.48H0.48V0.48H-0.48Z", "M-6.1,-0.1H6.1V0.1H-6.1Z"]}, "legend": {"title": null, "orient": "none", "legendX": 34, "legendY": 420, "columns": 2, "labelOffset": 37, "columnPadding": 12}},
           "fill": {"field": "group", "type": "nominal", "scale": {"domain": ["East Asian", "Average: EASIA", "95% CI", "OECD w Social Norms", "Average: OECDSN", "Fitted values"], "range": ["#ff0000", "transparent", "#eeeefc", "#0000ff", "transparent", "#4b4bf2"]}, "legend": {"title": null, "orient": "none", "legendX": 34, "legendY": 420, "columns": 2, "labelOffset": 37, "columnPadding": 12}},
           "stroke": {"field": "group", "type": "nominal", "scale": {"domain": ["East Asian", "Average: EASIA", "95% CI", "OECD w Social Norms", "Average: OECDSN", "Fitted values"], "range": ["#ff0000", "#ff8c1a", "#eeeefc", "#0000ff", "#1e90ff", "#4b4bf2"]}, "legend": {"title": null, "orient": "none", "legendX": 34, "legendY": 420, "columns": 2, "labelOffset": 37, "columnPadding": 12}}}},
        {"data": {"name": "d"}, "transform": [{"filter": {"field": "group", "oneOf": ["Other OECD", "Average: OOECD", "Average: WOECD"]}}],
         "mark": {"type": "point", "filled": true, "opacity": 1, "size": 100, "strokeWidth": 1.5},
         "encoding": {
           "x": {"field": "x", "type": "quantitative"}, "y": {"field": "y", "type": "quantitative"},
           "shape": {"field": "group", "type": "nominal", "scale": {"domain": ["Other OECD", "Average: OOECD", "Average: WOECD"], "range": ["M-0.58,0A0.58,0.58 0 1,0 0.58,0A0.58,0.58 0 1,0 -0.58,0Z", "M-0.48,0A0.48,0.48 0 1,0 0.48,0A0.48,0.48 0 1,0 -0.48,0Z", "M0,-0.56L0.56,0L0,0.56L-0.56,0Z"]}, "legend": {"title": null, "orient": "none", "legendX": 489, "legendY": 421, "columns": 1, "labelOffset": 7}},
           "fill": {"field": "group", "type": "nominal", "scale": {"domain": ["Other OECD", "Average: OOECD", "Average: WOECD"], "range": ["#000000", "transparent", "transparent"]}, "legend": {"title": null, "orient": "none", "legendX": 489, "legendY": 421, "columns": 1, "labelOffset": 7}},
           "stroke": {"field": "group", "type": "nominal", "scale": {"domain": ["Other OECD", "Average: OOECD", "Average: WOECD"], "range": ["#000000", "#800080", "#008000"]}, "legend": {"title": null, "orient": "none", "legendX": 489, "legendY": 421, "columns": 1, "labelOffset": 7}}}},
        {"data": {"name": "d"}, "mark": {"type": "text", "align": "left", "baseline": "middle", "dx": 7, "dy": 1, "fontSize": 14.5, "font": "Liberation Serif"},
         "encoding": {
           "x": {"field": "x", "type": "quantitative"}, "y": {"field": "y", "type": "quantitative"},
           "text": {"field": "label"},
           "color": {"field": "group", "type": "nominal", "scale": {"domain": ["East Asian", "OECD w Social Norms", "Other OECD", "Average: EASIA", "Average: OECDSN", "Average: OOECD", "Average: WOECD"], "range": ["#000000", "#000000", "#000000", "#ff8c1a", "#1e90ff", "#800080", "#008000"]}, "legend": null}}}
      ]
    }
  ]
}
